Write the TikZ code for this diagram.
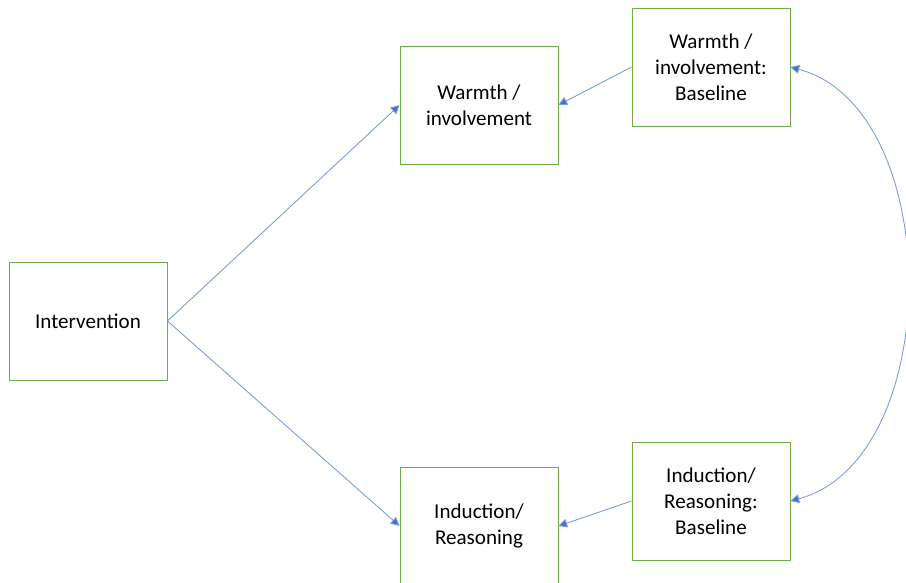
\documentclass[tikz,border=0pt]{standalone}
\usepackage{fontspec}
\setmainfont{Carlito}
\usepackage{tikz}
\usetikzlibrary{arrows.meta, positioning}

\definecolor{boxgreen}{RGB}{112,173,71}
\definecolor{linkblue}{RGB}{68,114,196}

\tikzset{
	varbox/.style={draw=boxgreen, line width=0.5pt, minimum width=3.16cm, minimum height=2.36cm,
		align=center, inner sep=0pt, font=\fontsize{12}{14.7}\selectfont},
	path/.style={draw=linkblue!70, line width=0.5pt, -{Triangle[length=5pt,width=5pt,fill=linkblue]}}
}

\begin{document}
\begin{tikzpicture}[x=0.02cm, y=-0.02cm]
			% Fix the frame of the picture
			\useasboundingbox (0,0) rectangle (906,582);
			\begin{scope}
			\clip (0,0) rectangle (906,582);
			
			% Draw the boxes
			\node[varbox] (interv) at (88,321) {Intervention};
			\node[varbox] (warmth) at (479,105) {Warmth /\\involvement};
			\node[varbox] (induct) at (479,526) {Induction/\\Reasoning};
			\node[varbox] (warmbase) at (711,67) {Warmth /\\involvement:\\Baseline};
			\node[varbox] (inducbase) at (711,501) {Induction/\\Reasoning:\\Baseline};
			
			% Paths from the intervention
			\draw[path] (interv.east) -- (warmth.west);
			\draw[path] (interv.east) -- (induct.west);
			
			% Paths from the baseline measures
			\draw[path] (warmbase.west) -- (warmth.east);
			\draw[path] (inducbase.west) -- (induct.east);
			
			% Correlation between the baselines
			\draw[path, {Triangle[length=5pt,width=5pt,fill=linkblue]}-{Triangle[length=5pt,width=5pt,fill=linkblue]}]
				(warmbase.east) to[out=-15, in=15, looseness=0.95] (inducbase.east);
			\end{scope}
		\end{tikzpicture}
\end{document}
